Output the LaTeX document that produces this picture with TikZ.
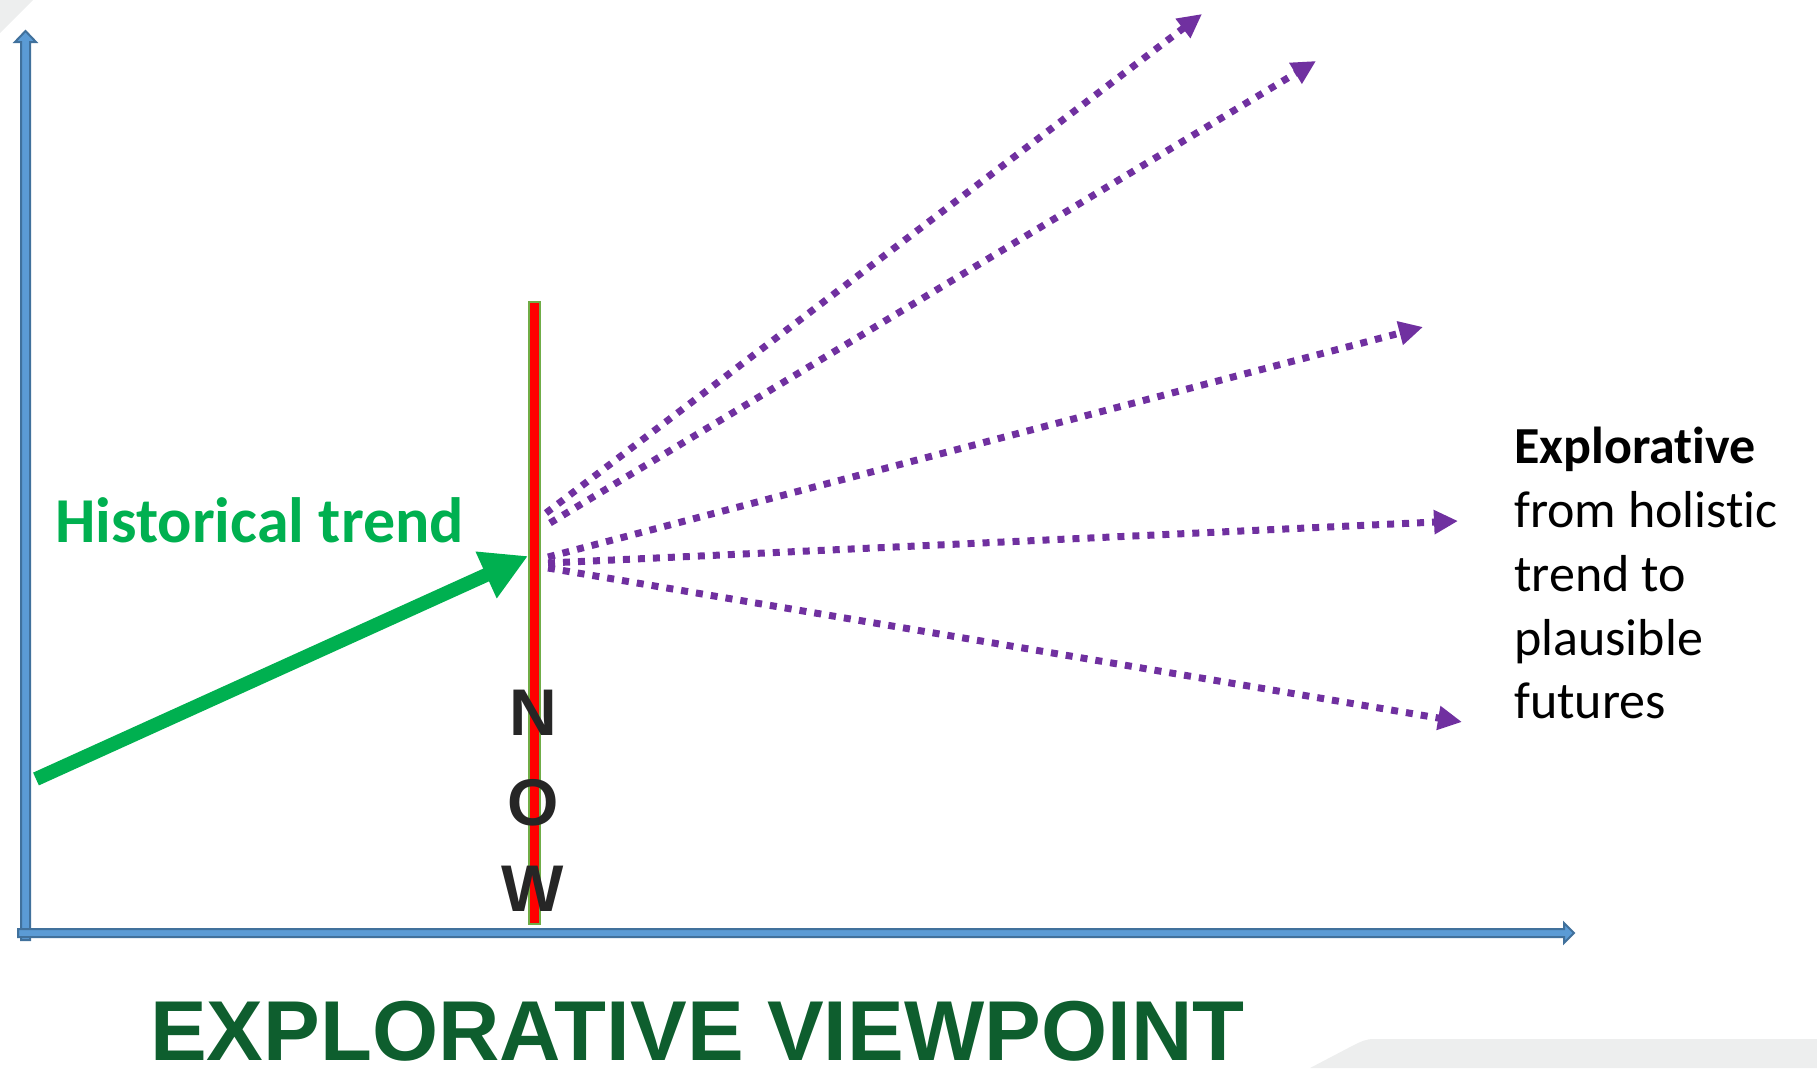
\documentclass[tikz,border=0pt]{standalone}
\usepackage{fontspec}
\setmainfont{Carlito}[RawFeature={-liga;-dlig;-calt}]
\newfontfamily\arialfont{Liberation Sans}
\usetikzlibrary{arrows.meta}
\definecolor{axisfill}{HTML}{5B9BD5}
\definecolor{axisline}{HTML}{41719C}
\definecolor{trendgreen}{HTML}{00B050}
\definecolor{titlegreen}{RGB}{14,94,46}
\definecolor{nowborder}{HTML}{70AD47}
\definecolor{futpurple}{HTML}{7030A0}
\definecolor{nowtext}{HTML}{262626}
\definecolor{cornergray}{HTML}{EDEEEE}
\tikzset{
  axisarrow/.style={fill=axisfill, draw=axisline, line width=2pt},
  future/.style={futpurple, line width=7pt, dash pattern=on 7pt off 8pt,
    -{Triangle[length=24pt,width=23pt]}},
  trend/.style={trendgreen, line width=14pt, -{Triangle[length=46pt,width=48pt]}},
  nowletter/.style={text=nowtext, font=\arialfont\bfseries\fontsize{66pt}{70pt}\selectfont, anchor=base, inner sep=0pt},
  rtext/.style={anchor=base west, inner sep=0pt, font=\fontsize{52pt}{63pt}\selectfont},
}
\begin{document}
\begin{tikzpicture}[x=1pt,y=-1pt]
\useasboundingbox (0,0) rectangle (1817,1068);
% background corner shapes
\fill[cornergray] (0,0) -- (33,0) -- (0,33) -- cycle;
\fill[cornergray] (1310,1068) -- (1352,1046) .. controls (1362,1041) and (1366,1039) .. (1374,1039) -- (1817,1039) -- (1817,1068) -- cycle;
% axes
\draw[axisarrow] (21,940) -- (21,42) -- (15,42) -- (25.5,31) -- (36,42) -- (30,42) -- (30,940) -- cycle;
\draw[axisarrow] (18,929) -- (1564,929) -- (1564,923) -- (1574,933) -- (1564,943) -- (1564,937) -- (18,937) -- cycle;
% NOW line
\node[draw=nowborder, line width=2.5pt, fill=red, minimum width=11pt, minimum height=622pt, inner sep=0pt] (nowline) at (534.5,613) {};
% NOW letters
\node[nowletter] (n) at (533,735) {N};
\node[nowletter] (o) at (533,825) {O};
\node[nowletter] (w) at (533,911) {W};
% historical trend
\coordinate (hstart) at (36,779);
\coordinate (htip) at (528,556);
\draw[trend] (hstart) -- (htip);
\node[anchor=base west, inner sep=0pt, text=trendgreen, font=\bfseries\fontsize{64pt}{70pt}\selectfont] (hlabel) at (55,542) {Historical trend};
% futures
\coordinate (s1) at (546,513); \coordinate (e1) at (1202,14);
\coordinate (s2) at (550,523); \coordinate (e2) at (1316,61);
\coordinate (s3) at (548,557); \coordinate (e3) at (1423,327);
\coordinate (s4) at (548,563); \coordinate (e4) at (1458,521);
\coordinate (s5) at (548,568); \coordinate (e5) at (1462,722);
\foreach \i in {1,...,5} \draw[future] (s\i) -- (e\i);
% right text
\node[rtext] (r1) at (1514,463) {\bfseries Explorat\kern0pt ive};
\node[rtext] (r2) at (1514,527) {from holist\kern0pt ic};
\node[rtext] (r3) at (1514,591) {trend to};
\node[rtext] (r4) at (1514,655) {plausible};
\node[rtext] (r5) at (1514,718) {futures};
% title
\node[anchor=base west, inner sep=0pt, text=titlegreen, font=\arialfont\bfseries\fontsize{85pt}{90pt}\selectfont] (title) at (150,1060) {EXPLORATIVE VIEWPOINT};
\end{tikzpicture}
\end{document}
